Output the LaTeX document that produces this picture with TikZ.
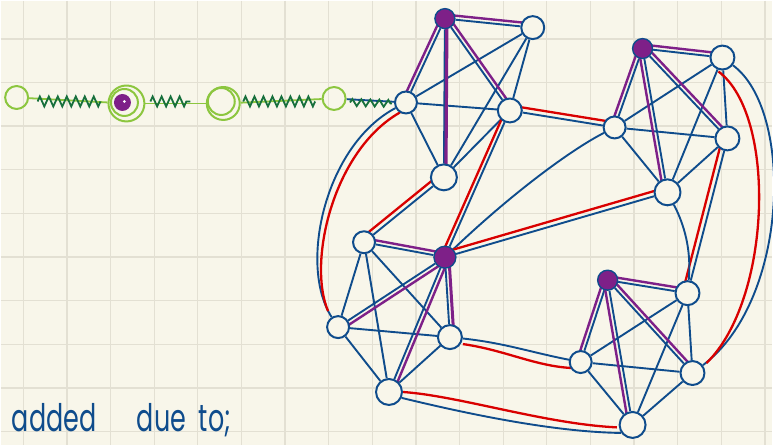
\documentclass[tikz,border=0pt]{standalone}
\usepackage{fontspec}
\newfontfamily\hand{Poppins}
\usetikzlibrary{calc,decorations.pathmorphing}
\definecolor{paper}{HTML}{F8F6EA}
\definecolor{gridc}{HTML}{E3E0D3}
\definecolor{ink}{HTML}{0F4C8C}
\definecolor{redink}{HTML}{D90000}
\definecolor{purp}{HTML}{7E2088}
\definecolor{lgreen}{HTML}{8CC63F}
\definecolor{dgreen}{HTML}{17703C}
\pgfdeclarelayer{bg}
\pgfdeclarelayer{edges}
\pgfsetlayers{bg,edges,main}
\newcommand{\offedge}[4]{\draw[#1] ($(#2)!#4!90:(#3)$) -- ($(#3)!#4!-90:(#2)$);}
\begin{document}
\begin{tikzpicture}[x=1pt,y=-1pt,line cap=round,line join=round,
 bl/.style={draw=ink,line width=1.9pt},
 rd/.style={draw=redink,line width=2.3pt},
 pu/.style={draw=purp,line width=2.4pt},
 vtx/.style={circle,draw=ink,line width=2pt,fill=paper,inner sep=0pt,minimum size=#1},
 hub/.style={circle,draw=ink,line width=1.4pt,fill=purp,inner sep=0pt,minimum size=#1},
 gring/.style={circle,draw=lgreen,line width=2pt,inner sep=0pt,minimum size=#1},
 lg/.style={draw=lgreen,line width=1.8pt},
 squig/.style={draw=dgreen,line width=1.8pt,decorate,decoration={zigzag,segment length=9pt,amplitude=5pt}},
]
\begin{pgfonlayer}{bg}
\fill[paper] (0,0) rectangle (773,445);
\foreach \i in {0,...,17} \draw[gridc,line width=1.3pt] ({22.7+43.7*\i},0) -- ++(0,445);
\foreach \j in {0,...,9} \draw[gridc,line width=1.3pt] (0,{38.3+43.7*\j}) -- ++(773,0);
\end{pgfonlayer}
\useasboundingbox (0,0) rectangle (773,445);

% cluster 1
\node[hub=20pt] (A) at (445,18) {};
\node[vtx=23pt] (B) at (533,27) {};
\node[vtx=22pt] (C) at (406,102) {};
\node[vtx=24pt] (D) at (510,110) {};
\node[vtx=26pt] (E) at (444,177) {};
% cluster 2
\node[hub=20pt] (F) at (643,48) {};
\node[vtx=24pt] (G) at (723,57) {};
\node[vtx=22pt] (H) at (615,127) {};
\node[vtx=24pt] (I) at (728,138) {};
\node[vtx=26pt] (J) at (668,192) {};
% cluster 3
\node[hub=22pt] (K) at (445,257) {};
\node[vtx=22pt] (L) at (364,242) {};
\node[vtx=22pt] (M) at (338,327) {};
\node[vtx=24pt] (N) at (450,337) {};
\node[vtx=26pt] (O) at (389,392) {};
% cluster 4
\node[hub=20pt] (P) at (608,280) {};
\node[vtx=24pt] (Q) at (688,293) {};
\node[vtx=22pt] (R) at (581,362) {};
\node[vtx=24pt] (S) at (693,373) {};
\node[vtx=26pt] (T) at (633,425) {};

% green chain
\node[gring=23pt] (g1) at (16,97) {};
\node[gring=36pt] (g2) at (126,103) {};
\node[gring=27pt] (g2b) at (124,102) {};
\node[circle,fill=purp,minimum size=17pt,inner sep=0pt] (g2c) at (122,102) {};
\node[circle,fill=white,minimum size=3pt,inner sep=0pt] (g2d) at (124,101) {};
\node[gring=33pt] (g3) at (223,103) {};
\node[gring=27pt] (g3b) at (221,101) {};
\node[gring=23pt] (g4) at (334,98) {};
\coordinate (s1a) at (37,101); \coordinate (s1b) at (100,101);
\coordinate (s2a) at (150,101); \coordinate (s2b) at (190,101);
\coordinate (s3a) at (243,101); \coordinate (s3b) at (315,101);
\coordinate (s4a) at (350,102); \coordinate (s4b) at (392,103);

\node[anchor=base west,text=ink,inner sep=0pt,font=\hand\fontsize{38}{38}\selectfont] (txt) at (11,432)
 {\scalebox{0.67}[1]{added\hspace{1.6em}due\hspace{0.5em}to;}};

\begin{pgfonlayer}{edges}
\draw[lg] (g1) -- (g2);
\draw[lg] (g2) -- (g3);
\draw[lg] (g3) -- (g4);
\draw[bl] (g4) -- (C);
\draw[squig] (s1a) -- (s1b);
\draw[squig] (s2a) -- (s2b);
\draw[squig] (s3a) -- (s3b);
\draw[squig,decoration={amplitude=3.5pt}] (s4a) -- (s4b);

% internal edges
\foreach \u/\v in {A/B,A/C,A/D,A/E,B/C,B/D,B/E,C/D,C/E,D/E,
                   F/G,F/H,F/I,F/J,G/H,G/I,G/J,H/I,H/J,I/J,
                   K/L,K/M,K/N,K/O,L/M,L/N,L/O,M/N,M/O,N/O,
                   P/Q,P/R,P/S,P/T,Q/R,Q/S,Q/T,R/S,R/T,S/T}
  \draw[bl] (\u) -- (\v);
% purple hub edges
\offedge{pu}{A}{B}{4pt}
\offedge{pu}{A}{C}{-4pt}
\offedge{pu}{A}{D}{4pt}
\offedge{pu,line width=3.2pt}{A}{E}{2pt}
\offedge{pu}{F}{G}{4pt}
\offedge{pu}{F}{H}{-4pt}
\offedge{pu}{F}{I}{4pt}
\offedge{pu}{F}{J}{-4pt}
\offedge{pu}{K}{L}{-4pt}
\offedge{pu}{K}{M}{4pt}
\offedge{pu,line width=3pt}{K}{N}{4pt}
\offedge{pu}{K}{O}{4pt}
\offedge{pu}{P}{Q}{4pt}
\offedge{pu}{P}{R}{-4pt}
\offedge{pu}{P}{S}{4pt}
\offedge{pu}{P}{T}{-4pt}

% inter-cluster edges
\draw[bl] (C) .. controls (325,145) and (298,265) .. (M);
\draw[rd] ($(C)+(-6,10)$) .. controls (333,150) and (307,262) .. ($(M)+(-10,-16)$);
\draw[bl] (E) -- (L);
\offedge{rd}{E}{L}{-5pt}
\draw[bl] (D) -- (K);
\offedge{rd}{D}{K}{-4pt}
\draw[bl] (D) -- (H);
\offedge{rd}{D}{H}{5pt}
\draw[bl] (H) .. controls (570,150) and (510,195) .. (K);
\draw[bl] (J) -- (K);
\offedge{rd}{J}{K}{-5pt}
\draw[bl] (I) -- (Q);
\offedge{rd}{I}{Q}{-5pt}
\draw[bl] (G) .. controls (795,110) and (790,300) .. (S);
\draw[rd] ($(G)+(-4,14)$) .. controls (778,115) and (772,300) .. ($(S)+(14,-10)$);
\draw[bl] (J) .. controls (685,225) and (692,250) .. (Q);
\draw[bl] (N) .. controls (505,343) and (530,352) .. (R);
\draw[rd] ($(N)+(13,7)$) .. controls (505,350) and (535,366) .. ($(R)+(-9,6)$);
\draw[bl] (O.-25) .. controls (460,412) and (550,432) .. (T.215);
\draw[rd] (O.0) .. controls (460,396) and (545,424) .. ($(T.190)+(-2,0)$);
\end{pgfonlayer}
\end{tikzpicture}
\end{document}
